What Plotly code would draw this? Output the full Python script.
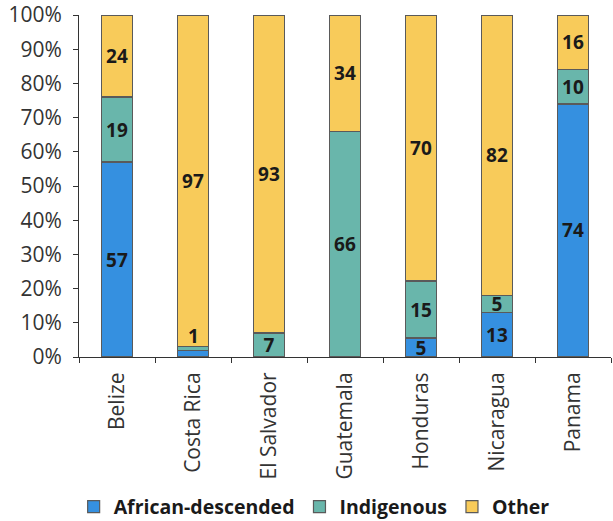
import plotly.graph_objects as go

countries = ["Belize", "Costa Rica", "El Salvador", "Guatemala", "Honduras", "Nicaragua", "Panama"]
african = [57, 2, 0, 0, 5, 13, 74]
indigenous = [19, 1, 7, 66, 15, 5, 10]
other = [24, 97, 93, 34, 70, 82, 16]

colors = {"African-descended": "#3590E0", "Indigenous": "#69B6AB", "Other": "#F8CB5A"}


def labels(vals, skip=()):
    # empty string where no label is drawn in the original
    return ["" if v == 0 or c in skip else str(v) for c, v in zip(countries, vals)]


fig = go.Figure()
series = [
    ("African-descended", african, labels(african, skip=("Costa Rica",))),
    ("Indigenous", indigenous, labels(indigenous, skip=("Costa Rica",))),
    ("Other", other, labels(other)),
]
for name, vals, txt in series:
    fig.add_trace(go.Bar(
        x=countries, y=vals, name=name, text=txt,
        textposition="inside", insidetextanchor="middle", constraintext="none",
        textangle=0,
        textfont=dict(family="Open Sans", size=19, color="#1a1a1a", weight="bold"),
        marker=dict(color=colors[name], line=dict(color="#5a5a5a", width=1.2)),
        width=0.4,
    ))

# Costa Rica indigenous label sits just above its tiny segment
cr = countries.index("Costa Rica")
cr_total = african[cr] + indigenous[cr] + other[cr]
fig.add_annotation(
    x="Costa Rica", y=100 * (african[cr] + indigenous[cr]) / cr_total,
    text="<b>%d</b>" % indigenous[cr], showarrow=False, yanchor="bottom", yshift=-4,
    font=dict(family="Open Sans", size=19, color="#1a1a1a"),
)

fig.update_layout(
    barmode="stack", barnorm="percent",
    width=613, height=521,
    margin=dict(l=79, r=2, t=15, b=164),
    plot_bgcolor="white", paper_bgcolor="white",
    font=dict(family="Open Sans", color="#333333"),
    legend=dict(orientation="h", x=0.442, xanchor="center", yref="container", y=0.027,
                yanchor="middle",
                font=dict(size=19.5, color="#1a1a1a", weight="bold"), traceorder="normal",
                itemwidth=30),
    xaxis=dict(showline=True, linecolor="#333333", ticks="outside", ticklen=5,
               tickcolor="#333333", tickson="boundaries", tickangle=-90,
               ticklabelstandoff=6,
               tickfont=dict(size=21, color="#333333"), showgrid=False, automargin=False),
    yaxis=dict(range=[0, 100], dtick=10, ticksuffix="%", showline=True,
               linecolor="#333333", ticks="outside", ticklen=5, tickcolor="#333333",
               ticklabelstandoff=7, ticklabeloverflow="allow",
               tickfont=dict(size=21, color="#333333"), showgrid=False, zeroline=False,
               automargin=False),
)

# drop the default 8px body margin so the figure sits at the page corner
fig.write_html("out.html", config={"displayModeBar": False},
               post_script="document.body.style.margin='0';")
